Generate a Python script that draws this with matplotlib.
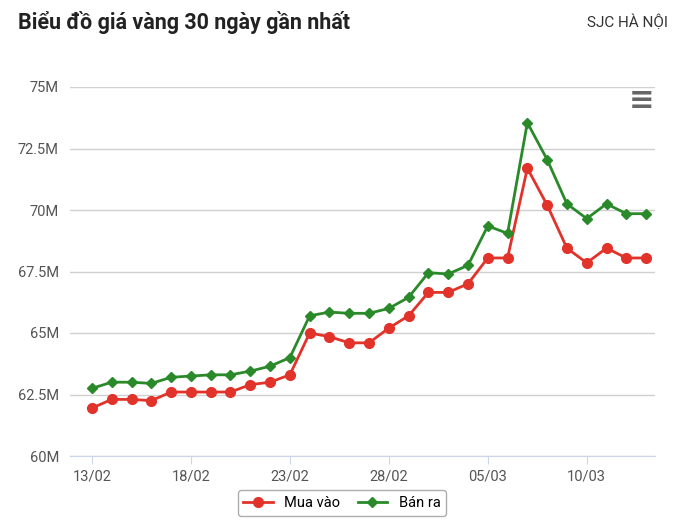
import matplotlib
matplotlib.use("Agg")
import matplotlib.pyplot as plt
from matplotlib.lines import Line2D

dates = ["13/02","14/02","15/02","16/02","17/02","18/02","19/02","20/02","21/02","22/02",
         "23/02","24/02","25/02","26/02","27/02","28/02","01/03","02/03","03/03","04/03",
         "05/03","06/03","07/03","08/03","09/03","10/03","11/03","12/03","13/03"]
mua_vao = [61.95,62.3,62.3,62.25,62.6,62.6,62.6,62.6,62.9,63.0,63.3,65.0,64.85,64.6,64.6,
           65.2,65.7,66.65,66.65,67.0,68.05,68.05,71.7,70.2,68.45,67.85,68.45,68.05,68.05]
ban_ra = [62.75,63.0,63.0,62.95,63.2,63.25,63.3,63.3,63.45,63.65,64.0,65.7,65.85,65.8,65.8,
          66.0,66.45,67.45,67.4,67.75,69.35,69.05,73.55,72.05,70.25,69.65,70.25,69.85,69.85]
yticks = [60,62.5,65,67.5,70,72.5,75]
ylabels = ["60M","62.5M","65M","67.5M","70M","72.5M","75M"]

plt.rcParams['font.family'] = ['Roboto','DejaVu Sans']
fig = plt.figure(figsize=(6.9,5.26), dpi=100)
ax = fig.add_axes([70/690, 1-456/526, 585/690, 369/526])
x = list(range(len(dates)))
ax.plot(x, mua_vao, color="#e2332b", marker="o", ms=7, lw=2, zorder=3, clip_on=False)
ax.plot(x, ban_ra, color="#2a8a2a", marker="D", ms=5, lw=2, zorder=3, clip_on=False)
ax.set_xlim(-1.11, 28.45)
ax.set_ylim(60, 75)
ax.set_yticks(yticks, ylabels)
ax.set_xticks(x[::5], dates[::5])
ax.grid(axis="y", color="#d0d0d0", lw=1)
for s in ["top","right","left"]:
    ax.spines[s].set_visible(False)
ax.spines["bottom"].set_color("#ccd6eb")
ax.tick_params(axis="y", length=0, labelsize=10.5, colors="#555555", pad=8)
ax.tick_params(axis="x", length=6, color="#ccd6eb", labelsize=10.5, labelcolor="#555555")

fig.text(18/690, 1-22/526, "Biểu đồ giá vàng 30 ngày gần nhất", fontsize=15.5, fontweight="bold",
         color="#222222", va="center")
fig.text(668/690, 1-22/526, "SJC HÀ NỘI", fontsize=11, color="#333333", va="center", ha="right")
fig.text(641/690, 1-100/526, "≡", fontsize=22, color="#666666", va="center", ha="center", fontweight="bold")

handles = [Line2D([], [], color="#e2332b", marker="o", ms=7, lw=2),
           Line2D([], [], color="#2a8a2a", marker="D", ms=5, lw=2)]
leg = fig.legend(handles, ["Mua vào", "Bán ra"], loc="center", bbox_to_anchor=(342/690, 1-503/526),
                 ncol=2, frameon=True, fontsize=10.5, handlelength=2, columnspacing=1.2, fancybox=True)
leg.get_frame().set_edgecolor("#999999")
leg.get_frame().set_linewidth(1)
fig.savefig("out.png", dpi=100)
